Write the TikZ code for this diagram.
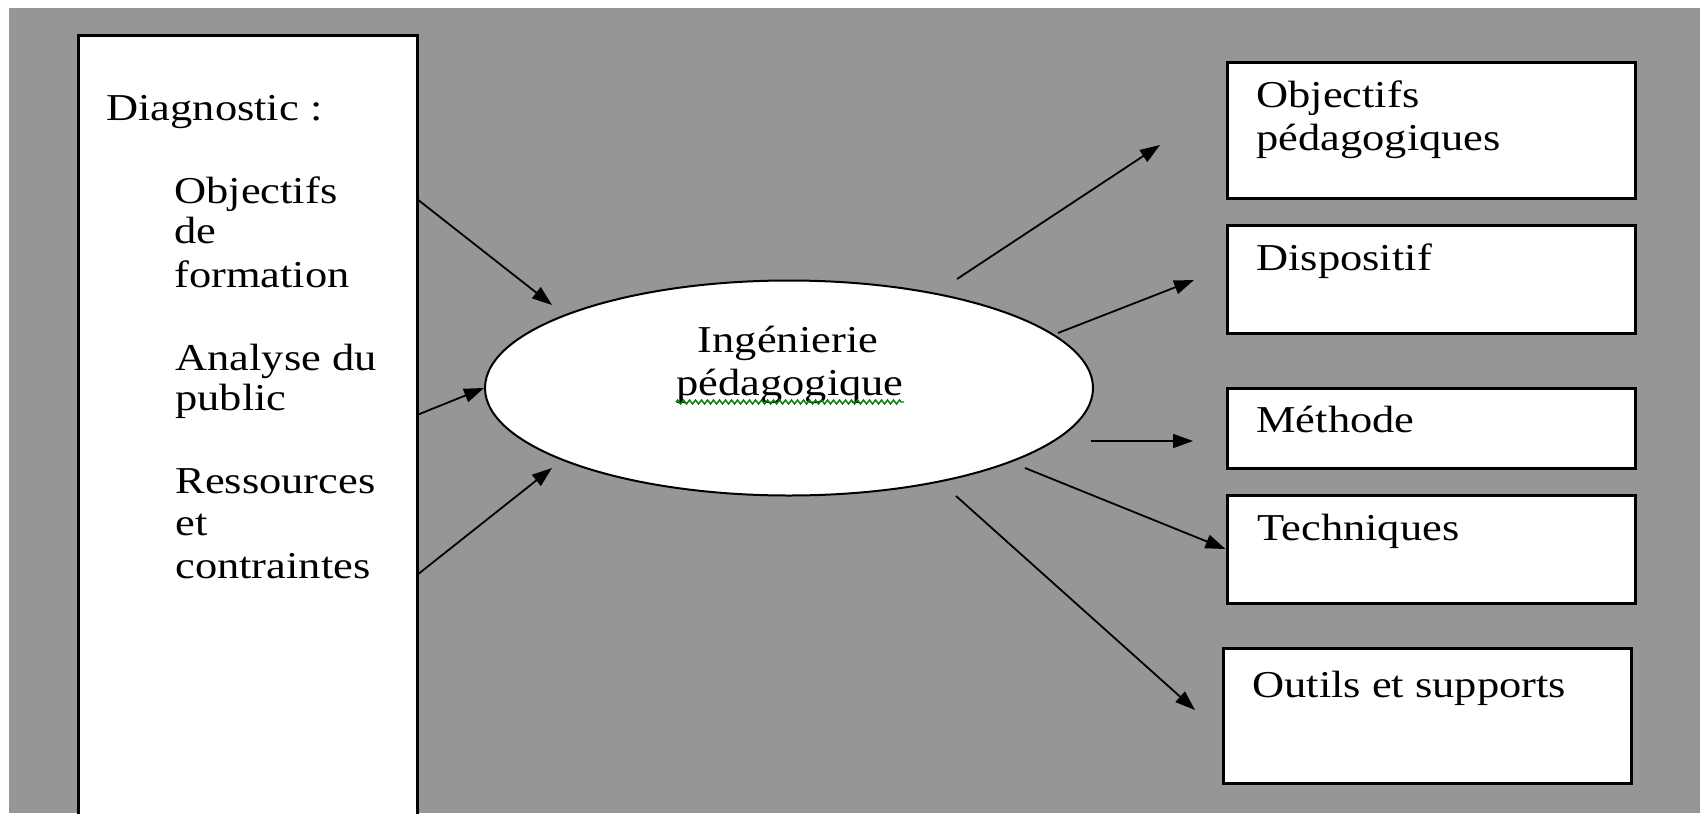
\documentclass[tikz,border=0pt]{standalone}
\usepackage{fontspec}
\setmainfont{Liberation Serif}[FakeStretch=1.17]
\usetikzlibrary{arrows.meta,shapes.geometric,decorations.pathmorphing}
\definecolor{bggray}{RGB}{150,150,150}
\definecolor{squig}{RGB}{0,128,0}
\begin{document}
\begin{tikzpicture}[x=0.5pt,y=-0.5pt,
  txt/.style={anchor=base west, inner sep=0pt, font=\fontsize{19pt}{23pt}\selectfont},
  ctxt/.style={anchor=base, inner sep=0pt, font=\fontsize{19pt}{23pt}\selectfont},
  box/.style={draw, line width=1.5pt, fill=white, rectangle, inner sep=0pt, minimum width=204pt},
  arr/.style={-{Triangle[length=10pt,width=7pt]}, line width=0.9pt}]
\clip (0,0) rectangle (1700,813);
\fill[white] (0,0) rectangle (1700,813);
\fill[bggray] (9,8) rectangle (1700,813);

% left box
\node[box, minimum width=169.5pt, minimum height=424pt] (diag) at (247.5,460) {};
\node[txt] (t0) at (106,120) {Diagnostic :};
\node[txt] (t1) at (174,203) {Objectifs};
\node[txt] (t2) at (174,243) {de};
\node[txt] (t3) at (174,287) {formation};
\node[txt] (t4) at (175,370) {Analyse du};
\node[txt] (t5) at (175,410) {public};
\node[txt] (t6) at (175,493) {Ressources};
\node[txt] (t7) at (175,535) {et};
\node[txt] (t8) at (175,578) {contraintes};

% ellipse
\node[ellipse, draw, line width=1pt, fill=white, minimum width=304pt, minimum height=107.5pt, inner sep=0pt] (ing) at (789,388) {};
\node[ctxt] (e1) at (788,352) {Ingénierie};
\node[ctxt] (e2) at (790,395) {pédagogique};
\draw[squig, line width=0.7pt, decorate, decoration={zigzag, amplitude=1pt, segment length=3pt}] (e2.base west) ++(0,7) coordinate (sq1) -- (e2.base east |- sq1);

% right boxes
\node[box, minimum height=67.5pt] (b1) at (1431,130.5) {};
\node[box, minimum height=54pt] (b2) at (1431,279) {};
\node[box, minimum height=40pt] (b3) at (1431,428) {};
\node[box, minimum height=54pt] (b4) at (1431,549) {};
\node[box, minimum height=67.5pt] (b5) at (1427,715.5) {};
\node[txt] (r1) at (1256,107) {Objectifs};
\node[txt] (r2) at (1256,150) {pédagogiques};
\node[txt] (r3) at (1256,270) {Dispositif};
\node[txt] (r4) at (1256,432) {Méthode};
\node[txt] (r5) at (1257,540) {Techniques};
\node[txt] (r6) at (1252,697) {Outils et supports};

% arrow end points
\coordinate (l1s) at (417,199);
\coordinate (l1e) at (552,305);
\coordinate (l2s) at (417,415);
\coordinate (l3s) at (417,575);
\coordinate (l3e) at (552,468);
\coordinate (a1s) at (957,279);
\coordinate (a1e) at (1160,145);
\coordinate (a2s) at (1058,333);
\coordinate (a2e) at (1194,280);
\coordinate (a3s) at (1091,441);
\coordinate (a3e) at (1193,441);
\coordinate (a4s) at (1025,468);
\coordinate (a5s) at (956,496);
\coordinate (a5e) at (1195,710);

\draw[arr] (l1s) -- (l1e);
\draw[arr] (l2s) -- (ing.west);
\draw[arr] (l3s) -- (l3e);
\draw[arr] (a1s) -- (a1e);
\draw[arr] (a2s) -- (a2e);
\draw[arr] (a3s) -- (a3e);
\draw[arr] (a4s) -- (b4.west);
\draw[arr] (a5s) -- (a5e);
\end{tikzpicture}
\end{document}
